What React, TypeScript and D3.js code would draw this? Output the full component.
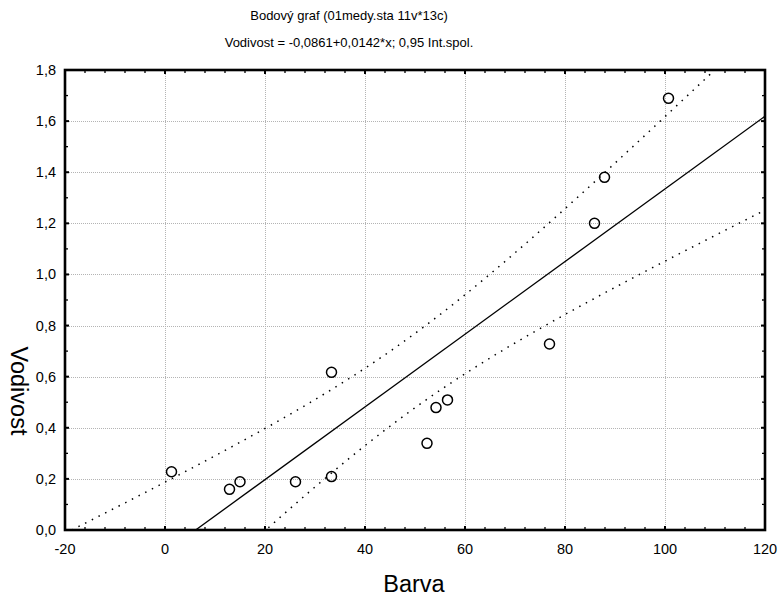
import React, { useEffect, useRef } from 'react';
import * as d3 from 'd3';

// values
const barva = [1.3, 12.9, 15.0, 26.1, 33.3, 33.3, 52.4, 54.2, 56.5, 76.9, 85.9, 87.9, 100.7];
const vodivost = [0.228, 0.159, 0.189, 0.189, 0.617, 0.209, 0.339, 0.479, 0.509, 0.728, 1.2, 1.38, 1.689];
const xTicks = [-20, 0, 20, 40, 60, 80, 100, 120];
const yTicks = [0, 0.2, 0.4, 0.6, 0.8, 1.0, 1.2, 1.4, 1.6, 1.8];
const titleLines = ['Bodový graf (01medy.sta 11v*13c)', 'Vodivost = -0,0861+0,0142*x; 0,95 Int.spol.'];
const T_975_DF11 = 2.201;

const FONT = '"Liberation Sans", Arial, sans-serif';

export default function App() {
  const ref = useRef<SVGSVGElement | null>(null);

  useEffect(() => {
    document.body.style.margin = '0';
    const svg = d3.select(ref.current);
    svg.selectAll('*').remove();

    const x = d3.scaleLinear().domain([-20, 120]).range([65, 765]);
    const y = d3.scaleLinear().domain([0, 1.8]).range([530, 70]);
    const [x0, x1] = x.range();
    const [y0, y1] = y.range();

    // linear regression + 95% confidence band for the mean
    const n = barva.length;
    const mx = d3.mean(barva) as number;
    const my = d3.mean(vodivost) as number;
    const sxx = d3.sum(barva, v => (v - mx) ** 2);
    const sxy = d3.sum(barva, (v, i) => (v - mx) * (vodivost[i] - my));
    const b = sxy / sxx;
    const a = my - b * mx;
    const sse = d3.sum(barva, (v, i) => (vodivost[i] - (a + b * v)) ** 2);
    const s = Math.sqrt(sse / (n - 2));
    const half = (v: number) => T_975_DF11 * s * Math.sqrt(1 / n + (v - mx) ** 2 / sxx);

    svg.append('clipPath').attr('id', 'plot-clip')
      .append('rect').attr('x', x0).attr('y', y1).attr('width', x1 - x0).attr('height', y0 - y1);

    const fmtY = (v: number) => d3.format('.1f')(v).replace('.', ',');

    // grid
    const grid = svg.append('g').attr('stroke', '#b4b4b4').attr('stroke-width', 1).attr('stroke-dasharray', '1,1');
    grid.selectAll('.gx').data(xTicks.slice(1, -1)).enter().append('line')
      .attr('x1', d => x(d) + 0.5).attr('x2', d => x(d) + 0.5).attr('y1', y1).attr('y2', y0);
    grid.selectAll('.gy').data(yTicks.slice(1, -1)).enter().append('line')
      .attr('y1', d => Math.round(y(d)) + 0.5).attr('y2', d => Math.round(y(d)) + 0.5).attr('x1', x0).attr('x2', x1);

    const plot = svg.append('g').attr('clip-path', 'url(#plot-clip)');
    const xs = d3.range(-20, 120.01, 0.5);

    // confidence band
    const bandLine = (sign: number) => d3.line<number>()
      .x(v => x(v))
      .y(v => y(a + b * v + sign * half(v)));
    [1, -1].forEach(sign => {
      plot.append('path').datum(xs)
        .attr('d', bandLine(sign))
        .attr('fill', 'none').attr('stroke', '#000').attr('stroke-width', 1.5)
        .attr('stroke-dasharray', '1.5,6');
    });

    // regression line
    plot.append('path').datum([-20, 120])
      .attr('d', d3.line<number>().x(v => x(v)).y(v => y(a + b * v)))
      .attr('fill', 'none').attr('stroke', '#000').attr('stroke-width', 1.3);

    // points
    plot.selectAll('circle').data(barva).enter().append('circle')
      .attr('cx', d => x(d))
      .attr('cy', (d, i) => y(vodivost[i]))
      .attr('r', 5)
      .attr('fill', 'none').attr('stroke', '#000').attr('stroke-width', 1.5);

    // frame
    svg.append('rect').attr('x', x0).attr('y', y1).attr('width', x1 - x0).attr('height', y0 - y1)
      .attr('fill', 'none').attr('stroke', '#000').attr('stroke-width', 2.6);

    // ticks (inward, all four sides)
    const ticks = svg.append('g').attr('stroke', '#000');
    const xMinor = d3.range(-20, 120.01, 4);
    const yMinor = d3.range(0, 1.801, 0.1);
    xMinor.forEach(v => {
      const major = xTicks.some(t => Math.abs(t - v) < 1e-6);
      const len = major ? 4 : 3;
      ticks.append('line').attr('x1', x(v)).attr('x2', x(v)).attr('y1', y0).attr('y2', y0 - len).attr('stroke-width', major ? 2 : 1.3);
      ticks.append('line').attr('x1', x(v)).attr('x2', x(v)).attr('y1', y1).attr('y2', y1 + len).attr('stroke-width', major ? 2 : 1.3);
    });
    yMinor.forEach(v => {
      const major = yTicks.some(t => Math.abs(t - v) < 1e-6);
      const len = major ? 4 : 3;
      ticks.append('line').attr('y1', y(v)).attr('y2', y(v)).attr('x1', x0).attr('x2', x0 + len).attr('stroke-width', major ? 2 : 1.3);
      ticks.append('line').attr('y1', y(v)).attr('y2', y(v)).attr('x1', x1).attr('x2', x1 - len).attr('stroke-width', major ? 2 : 1.3);
    });

    // tick labels
    svg.append('g').selectAll('text').data(xTicks).enter().append('text')
      .attr('x', d => x(d)).attr('y', 554)
      .attr('text-anchor', 'middle')
      .attr('font-family', FONT).attr('font-size', 14.5)
      .text(d => String(d));
    svg.append('g').selectAll('text').data(yTicks).enter().append('text')
      .attr('x', 56).attr('y', d => y(d) + 5)
      .attr('text-anchor', 'end')
      .attr('font-family', FONT).attr('font-size', 14.5)
      .text(d => fmtY(d));

    // titles
    titleLines.forEach((t, i) => {
      svg.append('text')
        .attr('x', 349).attr('y', 20 + i * 27)
        .attr('text-anchor', 'middle')
        .attr('font-family', FONT).attr('font-size', 13)
        .text(t);
    });

    // axis titles
    svg.append('text')
      .attr('x', 414).attr('y', 592)
      .attr('text-anchor', 'middle')
      .attr('font-family', FONT).attr('font-size', 23.5)
      .text('Barva');
    svg.append('text')
      .attr('transform', 'translate(11,391) rotate(90)')
      .attr('text-anchor', 'middle')
      .attr('font-family', FONT).attr('font-size', 23.5)
      .text('Vodivost');
  }, []);

  return <svg ref={ref} width={781} height={596} style={{ display: 'block', background: '#fff' }} />;
}
